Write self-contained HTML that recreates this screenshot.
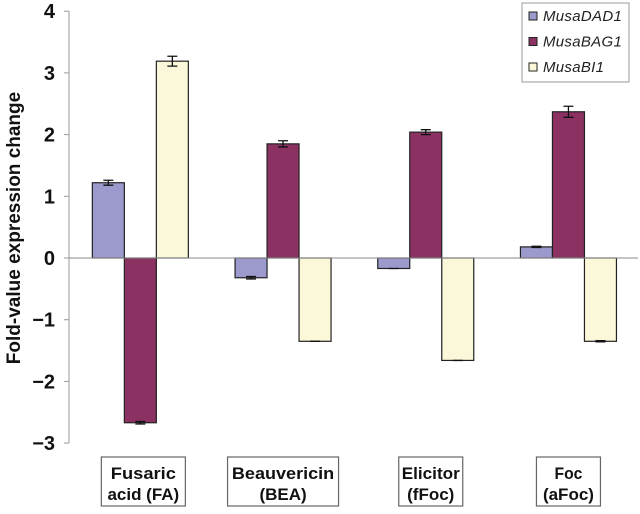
<!DOCTYPE html>
<html><head><meta charset="utf-8"><style>
body{margin:0;background:#fff;font-family:"Liberation Sans",Arial,sans-serif}
svg text{font-family:"Liberation Sans",Arial,sans-serif}
</style></head><body>
<svg id="chart" width="640" height="509" viewBox="0 0 640 509" xmlns="http://www.w3.org/2000/svg"></svg>
<script>
const categories = ["Fusaric acid (FA)", "Beauvericin (BEA)", "Elicitor (fFoc)", "Foc (aFoc)"];
const labelLine1 = ["Fusaric", "Beauvericin", "Elicitor", "Foc"];
const labelLine2 = ["acid (FA)", "(BEA)", "(fFoc)", "(aFoc)"];
const seriesNames = ["MusaDAD1", "MusaBAG1", "MusaBI1"];
const dad1 = [1.22, -0.32, -0.17, 0.18];
const bag1 = [-2.67, 1.85, 2.04, 2.37];
const bi1 = [3.19, -1.35, -1.66, -1.35];
const dad1Err = [0.04, 0.02, 0, 0.01];
const bag1Err = [0.02, 0.05, 0.04, 0.09];
const bi1Err = [0.08, 0, 0, 0.01];
const yTicks = [4, 3, 2, 1, 0, -1, -2, -3];
const yTickLabels = ["4", "3", "2", "1", "0", "\u22121", "\u22122", "\u22123"];

const NS = "http://www.w3.org/2000/svg";
const svg = document.getElementById("chart");
function mk(tag, attrs, parent) {
  const e = document.createElementNS(NS, tag);
  for (const k in attrs) e.setAttribute(k, attrs[k]);
  (parent || svg).appendChild(e);
  return e;
}
const axisX = 69, zeroY = 258, unit = 61.7, band = 142.7, barW = 32;
function y(v) { return zeroY - v * unit; }
function bandStart(i) { return axisX + i * band; }

const series = [dad1, bag1, bi1];
const errs = [dad1Err, bag1Err, bi1Err];
const colors = ["#9c9acc", "#8b3263", "#fbf8d9"];

let ax = mk("line", {x1: axisX, y1: y(4), x2: axisX, y2: y(-3), stroke: "#999", "stroke-width": 1});


yTicks.forEach((t, i) => {
  let tk = mk("line", {x1: axisX - 5, y1: y(t), x2: axisX, y2: y(t), stroke: "#999"});
  
  
  let tl = mk("text", {x: 55, y: y(t) + 7, "text-anchor": "end", "font-size": 20, "font-weight": "bold", fill: "#111"});
  tl.textContent = yTickLabels[i];
  
  
});
let yt = mk("text", {x: 0, y: 0, transform: "translate(20,228) rotate(-90)", "text-anchor": "middle", "font-size": 19, "font-weight": "bold", fill: "#111"});
yt.textContent = "Fold-value expression change";



categories.forEach((c, i) => {
  const gStart = bandStart(i) + band / 2 - 1.5 * barW;
  series.forEach((s, j) => {
    const v = s[i];
    const x = gStart + j * barW;
    const top = Math.min(y(v), zeroY), h = Math.abs(y(v) - zeroY);
    let r = mk("rect", {x: x, y: top, width: barW, height: h, fill: colors[j], stroke: "#222", "stroke-width": 1.2});
    
    
    const e = errs[j][i];
    const cx = x + barW / 2;
    let eg = mk("path", {d: `M${cx-5},${y(v+e)}H${cx+5}M${cx},${y(v+e)}V${y(v-e)}M${cx-5},${y(v-e)}H${cx+5}`, stroke: "#111", "stroke-width": 1.3, fill: "none"});
    
    
  });
});

let zl = mk("line", {x1: axisX, y1: zeroY, x2: 638, y2: zeroY, stroke: "#888", "stroke-width": 1});



const boxW = [84, 111, 64, 64];
categories.forEach((c, i) => {
  const cx = bandStart(i) + band / 2 + (i === 0 ? 3 : i === 1 ? 0 : i === 2 ? 5 : 0);
  const g = mk("g", {});
  
  
  mk("rect", {x: cx - boxW[i] / 2, y: 457, width: boxW[i], height: 49, fill: "#fff", stroke: "#666", "stroke-width": 1.2}, g);
  const t1 = mk("text", {x: cx, y: 479, "text-anchor": "middle", "font-size": 17, "font-weight": "bold", fill: "#111", textLength: Math.min(boxW[i]-6, labelLine1[i].length*9.3), lengthAdjust: "spacingAndGlyphs"}, g);
  t1.textContent = labelLine1[i];
  const t2 = mk("text", {x: cx, y: 500, "text-anchor": "middle", "font-size": 17, "font-weight": "bold", fill: "#111"}, g);
  t2.textContent = labelLine2[i];
});

const lg = mk("g", {});


mk("rect", {x: 522, y: 3, width: 107, height: 79, fill: "#fff", stroke: "#999"}, lg);
seriesNames.forEach((n, j) => {
  const ly = 16 + j * 25.5;
  const e = mk("g", {}, lg);
  
  
  mk("rect", {x: 529, y: ly - 4, width: 8, height: 8, fill: colors[j], stroke: "#222"}, e);
  const t = mk("text", {x: 543, y: ly + 5, "font-size": 15, "font-style": "italic", fill: "#222", "letter-spacing": "0.3"}, e);
  t.textContent = n;
});
</script>
</body></html>
